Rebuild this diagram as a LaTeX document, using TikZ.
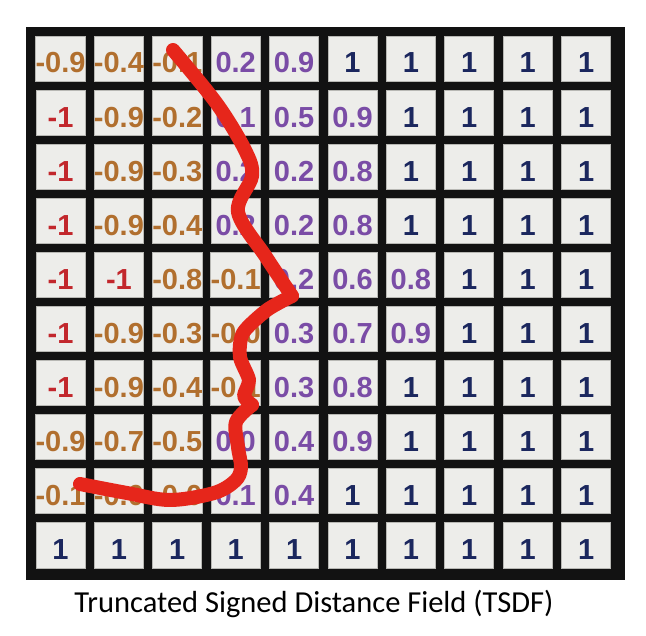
\documentclass[tikz,border=0pt]{standalone}
\usepackage{fontspec}
\usetikzlibrary{positioning}
\newfontfamily\numfont{Liberation Sans}[BoldFont={Liberation Sans Bold}]
\newfontfamily\capfont{Carlito}
\usepackage{xcolor}
\definecolor{cellgray}{HTML}{EDEDEA}
\definecolor{cellline}{HTML}{B8B8B4}
\definecolor{minusred}{HTML}{C2272C}
\definecolor{negbrown}{HTML}{B16F2E}
\definecolor{pospurple}{HTML}{7A4CA6}
\definecolor{onenavy}{HTML}{1B275E}
\definecolor{surfred}{HTML}{E6261B}

\tikzset{
  cell/.style={fill=cellgray, draw=cellline, line width=0.8pt,
    minimum width=49pt, minimum height=45pt, inner sep=0pt,
    text height=29pt, text depth=0pt,
    font=\numfont\bfseries\fontsize{29}{31}\selectfont},
  minusval/.style={text=minusred},
  negval/.style={text=negbrown},
  posval/.style={text=pospurple},
  oneval/.style={text=onenavy},
  surface/.style={draw=surfred, line width=14pt, line cap=round, line join=round}
}

\begin{document}
\begin{tikzpicture}[x=1pt, y=-1pt]
  \useasboundingbox[fill=white] (0,0) rectangle (646,636);
  % black board behind the cells
  \fill[black!93] (26,27) rectangle (625,580);
  % the TSDF values, row by row
  \foreach \vals [count=\r] in {
    {-0.9/negval,-0.4/negval,-0.1/negval,0.2/posval,0.9/posval,1/oneval,1/oneval,1/oneval,1/oneval,1/oneval},
    {-1/minusval,-0.9/negval,-0.2/negval,0.1/posval,0.5/posval,0.9/posval,1/oneval,1/oneval,1/oneval,1/oneval},
    {-1/minusval,-0.9/negval,-0.3/negval,0.2/posval,0.2/posval,0.8/posval,1/oneval,1/oneval,1/oneval,1/oneval},
    {-1/minusval,-0.9/negval,-0.4/negval,0.2/posval,0.2/posval,0.8/posval,1/oneval,1/oneval,1/oneval,1/oneval},
    {-1/minusval,-1/minusval,-0.8/negval,-0.1/negval,0.2/posval,0.6/posval,0.8/posval,1/oneval,1/oneval,1/oneval},
    {-1/minusval,-0.9/negval,-0.3/negval,-0.0/negval,0.3/posval,0.7/posval,0.9/posval,1/oneval,1/oneval,1/oneval},
    {-1/minusval,-0.9/negval,-0.4/negval,-0.1/negval,0.3/posval,0.8/posval,1/oneval,1/oneval,1/oneval,1/oneval},
    {-0.9/negval,-0.7/negval,-0.5/negval,0.0/posval,0.4/posval,0.9/posval,1/oneval,1/oneval,1/oneval,1/oneval},
    {-0.1/negval,-0.0/negval,-0.0/negval,0.1/posval,0.4/posval,1/oneval,1/oneval,1/oneval,1/oneval,1/oneval},
    {1/oneval,1/oneval,1/oneval,1/oneval,1/oneval,1/oneval,1/oneval,1/oneval,1/oneval,1/oneval}} {
    \foreach \v/\k [count=\c] in \vals {
      \node[cell, \k] (c\r-\c) at ({60.5+58.4*(\c-1)}, {58.5+54.1*(\r-1)}) {\v};
    }
  }
  % the surface through the zero crossing
  \draw[surface] plot[smooth, tension=0.55] coordinates {
    (173,50) (217,104) (245,150) (252,176) (238,212) (266,257) (292,296)};
  \draw[surface] plot[smooth, tension=0.45] coordinates {
    (292,296) (267,310) (243,333) (240,357) (249,380) (244,396) (252,405)};
  \draw[surface] plot[smooth, tension=0.55] coordinates {
    (252,405) (236,422) (238,447) (241,468) (235,481) (214,493) (170,500) (127,493) (80,484)};
  % caption
  \node[anchor=base, font=\capfont\fontsize{30.5}{33}\selectfont] (caption) at (314,612)
    {Truncated Signed Distance Field (TSDF)};
\end{tikzpicture}
\end{document}
